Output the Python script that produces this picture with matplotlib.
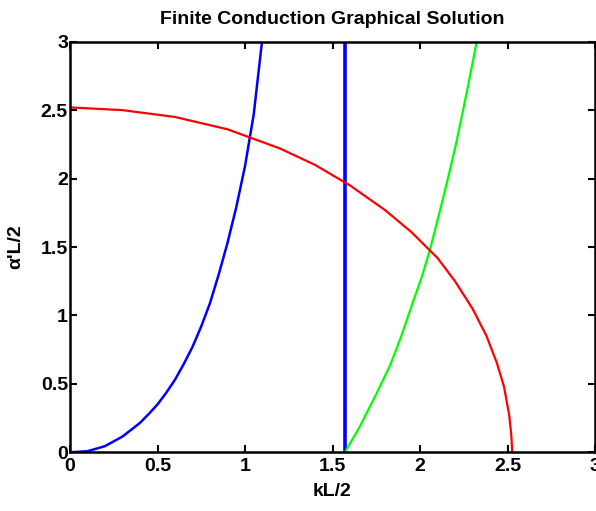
import matplotlib
matplotlib.use('Agg')
import matplotlib.pyplot as plt

plt.rcParams.update({
    'font.family': ['Liberation Sans', 'DejaVu Sans'],
    'font.size': 14,
    'font.weight': 'bold',
})

# values
blue_x = [0.0, 0.1, 0.2, 0.3, 0.4, 0.45, 0.5, 0.55, 0.6, 0.65, 0.7, 0.75, 0.8,
          0.85, 0.9, 0.95, 1.0, 1.05, 1.097]
blue_y = [0.0, 0.008, 0.045, 0.115, 0.215, 0.28, 0.35, 0.435, 0.53, 0.645, 0.77, 0.92, 1.09,
          1.30, 1.53, 1.79, 2.09, 2.47, 3.0]

vert_x = [1.571, 1.571]
vert_y = [0.0, 3.0]

green_x = [1.571, 1.657, 1.752, 1.829, 1.895, 1.952, 2.01, 2.057, 2.105, 2.152,
           2.2, 2.248, 2.286, 2.324]
green_y = [0.0, 0.19, 0.43, 0.635, 0.855, 1.07, 1.28, 1.48, 1.72, 1.96,
           2.22, 2.51, 2.75, 3.0]

red_x = [0.0, 0.3, 0.6, 0.9, 1.2, 1.4, 1.6, 1.8, 1.95, 2.1, 2.2, 2.3, 2.38,
         2.44, 2.48, 2.51, 2.522, 2.527]
red_y = [2.52, 2.50, 2.45, 2.36, 2.22, 2.10, 1.95, 1.77, 1.61, 1.42, 1.25, 1.05, 0.85,
         0.65, 0.48, 0.27, 0.12, 0.0]

fig = plt.figure(figsize=(5.96, 5.11), dpi=100)
ax = fig.add_axes([70 / 596, 58.7 / 511, 525 / 596, 410.6 / 511])

ax.plot(blue_x, blue_y, color='#0000ff', linewidth=1.8)
ax.plot(vert_x, vert_y, color='#0000ff', linewidth=2.6)
ax.plot(green_x, green_y, color='#00ff00', linewidth=1.6)
ax.plot(red_x, red_y, color='#ff0000', linewidth=1.6)

ax.set_xlim(0, 3)
ax.set_ylim(0, 3)
ticks = [0, 0.5, 1, 1.5, 2, 2.5, 3]
tick_labels = ['0', '0.5', '1', '1.5', '2', '2.5', '3']
ax.set_xticks(ticks)
ax.set_yticks(ticks)
ax.set_xticklabels(tick_labels)
ax.set_yticklabels(tick_labels)
ax.tick_params(direction='in', length=5, width=1.5, top=True, right=True, labelsize=14)
ax.tick_params(axis='x', pad=4)
ax.tick_params(axis='y', pad=1.5)
for s in ax.spines.values():
    s.set_linewidth(1.8)

ax.set_title('Finite Conduction Graphical Solution', fontsize=14, fontweight='bold', pad=13)
ax.set_xlabel('kL/2', fontsize=14, fontweight='bold', labelpad=6)
ax.set_ylabel("\u03b1'L/2", fontsize=14, fontweight='bold', labelpad=12)

fig.savefig('out.png', dpi=100)
